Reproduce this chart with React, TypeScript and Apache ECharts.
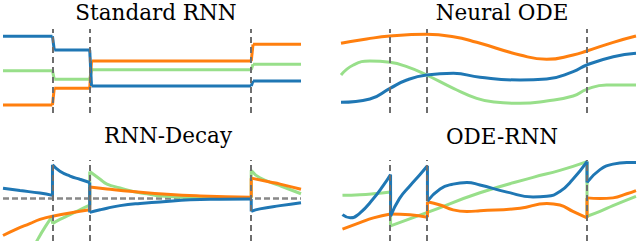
import React, { useEffect, useRef } from "react";
import * as echarts from "echarts";

type Pt = [number, number];

// ---------- data ----------
const obsTimes = [1.66, 2.91, 8.33];
const titles = ["Standard RNN", "Neural ODE", "RNN-Decay", "ODE-RNN"];

// Standard RNN: one held value per interval between observations
const rnnBlue = [0.826, 0.5, -0.357, -0.238];
const rnnGreen = [0.007, -0.198, 0.031, 0.16];
const rnnOrange = [-0.81, -0.412, 0.238, 0.636];

// Neural ODE: continuous trajectories
const odeBlue: Pt[] = [[0, -0.746], [0.98, -0.667], [1.66, -0.413], [2.23, -0.214], [2.9, -0.095], [3.81, -0.056], [4.71, -0.151], [6.07, -0.214], [6.97, -0.19], [7.87, -0.016], [8.33, 0.143], [9.23, 0.341], [10, 0.421]];
const odeOrange: Pt[] = [[0, 0.66], [0.87, 0.762], [1.66, 0.833], [2.9, 0.873], [3.81, 0.817], [4.6, 0.683], [6.07, 0.381], [6.97, 0.278], [7.87, 0.381], [8.33, 0.476], [9.23, 0.683], [10, 0.833]];
const odeGreen: Pt[] = [[0, -0.095], [0.42, 0.143], [0.98, 0.238], [1.66, 0.206], [2.23, 0.103], [2.9, -0.095], [3.81, -0.413], [4.6, -0.651], [5.2, -0.74], [6.07, -0.77], [6.97, -0.714], [7.87, -0.595], [8.33, -0.436], [9.0, -0.333], [10, -0.333]];

// RNN-Decay: segments between observations
const decayBlue: Pt[][] = [
  [[0, 0.268], [0.57, 0.208], [1.24, 0.142], [1.66, 0.083]],
  [[1.66, 0.875], [1.91, 0.708], [2.25, 0.583], [2.58, 0.5], [2.91, 0.418]],
  [[2.91, -0.358], [3.26, -0.29], [3.49, -0.25], [3.93, -0.183], [4.6, -0.125], [5.27, -0.088], [6.28, -0.03], [7.28, -0.015], [8.33, -0.01]],
  [[8.33, -0.333], [8.62, -0.267], [9.3, -0.183], [10, -0.108]],
];
const decayOrange: Pt[][] = [
  [[0, -0.958], [0.45, -0.79], [0.9, -0.65], [1.24, -0.54], [1.66, -0.458]],
  [[1.66, -0.458], [2.25, -0.375], [2.91, -0.29]],
  [[2.91, 0.3], [3.49, 0.25], [4.36, 0.183], [5.5, 0.11], [6.61, 0.068], [8.33, 0.035]],
  [[8.33, 0.53], [8.96, 0.43], [9.3, 0.375], [10, 0.24]],
];
const decayGreen: Pt[][] = [
  [[0.9, -1.45], [1.19, -1.025], [1.41, -0.74], [1.66, -0.458]],
  [[1.66, -0.65], [1.91, -0.54], [2.25, -0.417], [2.58, -0.29], [2.91, -0.17]],
  [[2.91, 0.7], [3.26, 0.5], [3.49, 0.375], [3.93, 0.275], [4.36, 0.183], [4.83, 0.125], [5.27, 0.068], [6.61, 0.02], [8.33, 0.01]],
  [[8.33, 0.733], [8.62, 0.54], [9.3, 0.333], [10, 0.125]],
];

// ODE-RNN: segments between observations
const odeRnnBlue: Pt[][] = [
  [[0.05, -0.418], [0.31, -0.5], [0.64, -0.375], [1.1, 0], [1.43, 0.333], [1.68, 0.625]],
  [[1.68, -0.458], [1.98, 0], [2.34, 0.333], [2.68, 0.625], [2.93, 0.85]],
  [[2.93, -0.068], [3.36, 0.25], [3.8, 0.375], [4.27, 0.418], [4.71, 0.35], [5.63, 0.168], [6.51, 0.043], [6.98, 0.058], [7.42, 0.183], [7.86, 0.5], [8.34, 0.958]],
  [[8.34, 0.418], [8.78, 0.75], [9.22, 0.893], [9.69, 0.933], [10, 0.933]],
];
const odeRnnOrange: Pt[][] = [
  [[0.05, -0.79], [0.64, -0.625], [1.1, -0.5], [1.68, -0.4]],
  [[1.68, -0.4], [2.34, -0.418], [2.93, -0.483]],
  [[2.93, -0.083], [3.36, -0.168], [3.8, -0.293], [4.27, -0.333], [4.71, -0.318], [6.07, -0.25], [6.98, -0.125], [7.42, -0.168], [7.86, -0.333], [8.34, -0.5]],
  [[8.34, 0.018], [8.78, 0], [9.22, 0.018], [9.69, 0.125], [10, 0.208]],
];
const odeRnnGreen: Pt[][] = [
  [[0.05, 0.083], [0.64, 0.1], [1.1, 0.125], [1.68, 0.168]],
  [[1.68, -0.708], [2.93, -0.36], [4.71, 0.15], [6.51, 0.55], [7.42, 0.73], [8.34, 0.958]],
  [[8.34, -0.458], [8.78, -0.333], [9.22, -0.183], [10, 0.058]],
];

// ---------- styling ----------
const BLUE = "#1f77b4";
const ORANGE = "#ff7f0e";
const GREEN = "#98df8a";
const DASH_GRAY = "#6e6e6e";
const LW = 3;
const SERIF = "DejaVu Serif";

function stepSegments(vals: number[]): Pt[][] {
  const bounds = [0, ...obsTimes, 10];
  return vals.map((v, i) => {
    const start = i === 0 ? bounds[i] : bounds[i] + 0.06;
    return [[start, v], [bounds[i + 1], v]] as Pt[];
  });
}

function line(data: Pt[], color: string, gi: number, z: number, smooth: number | boolean) {
  return {
    type: "line",
    xAxisIndex: gi,
    yAxisIndex: gi,
    data,
    smooth,
    showSymbol: false,
    symbol: "none",
    silent: true,
    z,
    lineStyle: { color, width: LW },
  };
}

function segmentSeries(segs: Pt[][], color: string, gi: number, z: number, smooth: number) {
  const out: any[] = [];
  segs.forEach((s, i) => {
    out.push(line(s, color, gi, z, smooth));
    if (i > 0) {
      const prev = segs[i - 1];
      out.push(line([prev[prev.length - 1], s[0]], color, gi, z, false));
    }
  });
  return out;
}

function vMarkers(gi: number) {
  return {
    type: "line",
    xAxisIndex: gi,
    yAxisIndex: gi,
    data: [],
    silent: true,
    markLine: {
      silent: true,
      symbol: "none",
      label: { show: false },
      animation: false,
      z: 6,
      lineStyle: { type: [6, 4], color: DASH_GRAY, width: 2 },
      data: obsTimes.map((t) => ({ xAxis: t })),
    },
  };
}

export default function App() {
  const ref = useRef<HTMLDivElement>(null);
  useEffect(() => {
    if (!ref.current) return;
    const chart = echarts.init(ref.current, undefined, { renderer: "svg" });

    const grids = [
      { left: 3, top: 29, width: 298, height: 84 },
      { left: 341, top: 29, width: 295, height: 84 },
      { left: 3, top: 160, width: 298, height: 84 },
      { left: 341, top: 160, width: 295, height: 84 },
    ];
    const hidden = { show: false };
    const xAxis = grids.map((_, i) => ({
      type: "value",
      gridIndex: i,
      min: 0,
      max: 10,
      axisLine: hidden,
      axisTick: hidden,
      axisLabel: hidden,
      splitLine: hidden,
    }));
    const yAxis = grids.map((_, i) => ({
      type: "value",
      gridIndex: i,
      min: i < 2 ? -1 : -1.1,
      max: 1,
      axisLine: hidden,
      axisTick: hidden,
      axisLabel: hidden,
      splitLine: hidden,
    }));

    const series: any[] = [];
    // Standard RNN
    series.push(...segmentSeries(stepSegments(rnnGreen), GREEN, 0, 2, 0));
    series.push(...segmentSeries(stepSegments(rnnOrange), ORANGE, 0, 3, 0));
    series.push(...segmentSeries(stepSegments(rnnBlue), BLUE, 0, 4, 0));
    // Neural ODE
    series.push(line(odeGreen, GREEN, 1, 2, 0.5));
    series.push(line(odeOrange, ORANGE, 1, 3, 0.5));
    series.push(line(odeBlue, BLUE, 1, 4, 0.5));
    // RNN-Decay
    series.push(...segmentSeries(decayGreen, GREEN, 2, 2, 0.5));
    series.push(...segmentSeries(decayOrange, ORANGE, 2, 3, 0.5));
    series.push(...segmentSeries(decayBlue, BLUE, 2, 4, 0.5));
    series.push({
      type: "line",
      xAxisIndex: 2,
      yAxisIndex: 2,
      data: [],
      silent: true,
      markLine: {
        silent: true,
        symbol: "none",
        label: { show: false },
        animation: false,
        z: 1,
        lineStyle: { type: [6, 3], color: "#888888", width: 2.7 },
        data: [{ yAxis: 0 }],
      },
    });
    // ODE-RNN
    series.push(...segmentSeries(odeRnnGreen, GREEN, 3, 2, 0.5));
    series.push(...segmentSeries(odeRnnOrange, ORANGE, 3, 3, 0.5));
    series.push(...segmentSeries(odeRnnBlue, BLUE, 3, 4, 0.5));
    [0, 1, 2, 3].forEach((gi) => series.push(vMarkers(gi)));

    const titlePos = [
      [156, 1],
      [502, 1],
      [168, 124],
      [502, 125],
    ];
    const title = titles.map((t, i) => ({
      text: t,
      left: titlePos[i][0],
      top: titlePos[i][1],
      textAlign: "center",
      padding: 0,
      textStyle: {
        color: "#000",
        fontFamily: SERIF,
        fontSize: 21.5,
        fontWeight: "normal",
        lineHeight: 23,
      },
    }));

    chart.setOption({
      animation: false,
      backgroundColor: "#ffffff",
      title,
      grid: grids,
      xAxis,
      yAxis,
      series,
    });
    return () => chart.dispose();
  }, []);
  return (
    <div
      ref={ref}
      style={{ position: "absolute", left: 0, top: 0, width: 640, height: 241 }}
    />
  );
}
